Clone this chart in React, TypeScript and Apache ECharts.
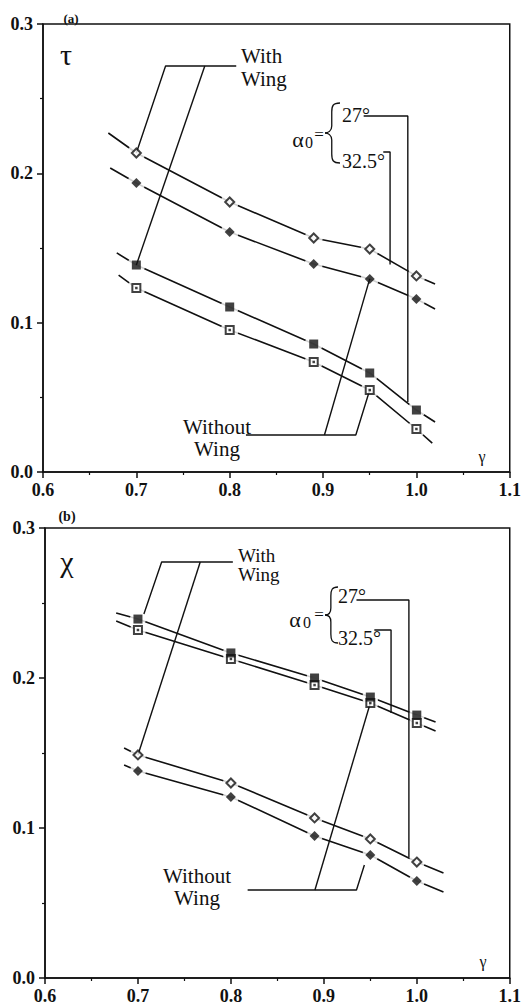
import { useEffect, useRef } from "react";
import * as echarts from "echarts";

type Pt = [number, number];

const INK = "#111";
const FONT = "Liberation Serif";

// Velocity ratio gamma at which both quantities were measured
const GAMMA = [0.7, 0.8, 0.89, 0.95, 1.0];

// Panel (a): tau
const TAU_OPEN_DIAMOND = [0.2136, 0.1808, 0.1567, 0.1493, 0.1313];
const TAU_FILLED_DIAMOND = [0.1935, 0.1607, 0.1393, 0.1293, 0.1158];
const TAU_FILLED_SQUARE = [0.1386, 0.1105, 0.0857, 0.0663, 0.0415];
const TAU_OPEN_SQUARE = [0.1232, 0.0951, 0.0737, 0.0549, 0.0288];
// where each fitted curve starts and stops
const TAU_OPEN_DIAMOND_ENDS: Pt[] = [[0.670, 0.227], [1.020, 0.1259]];
const TAU_FILLED_DIAMOND_ENDS: Pt[] = [[0.672, 0.2036], [1.020, 0.1092]];
const TAU_FILLED_SQUARE_ENDS: Pt[] = [[0.679, 0.1467], [1.020, 0.0335]];
const TAU_OPEN_SQUARE_ENDS: Pt[] = [[0.681, 0.1319], [1.017, 0.0194]];

// Panel (b): chi
const CHI_FILLED_SQUARE = [0.2393, 0.2167, 0.2, 0.1873, 0.1753];
const CHI_OPEN_SQUARE = [0.232, 0.2127, 0.1953, 0.1833, 0.17];
const CHI_OPEN_DIAMOND = [0.1487, 0.13, 0.1067, 0.0927, 0.0773];
const CHI_FILLED_DIAMOND = [0.138, 0.1207, 0.0947, 0.082, 0.0647];
const CHI_FILLED_SQUARE_ENDS: Pt[] = [[0.6766, 0.2433], [1.0202, 0.1707]];
const CHI_OPEN_SQUARE_ENDS: Pt[] = [[0.6766, 0.238], [1.0202, 0.1647]];
const CHI_OPEN_DIAMOND_ENDS: Pt[] = [[0.6851, 0.1533], [1.0287, 0.07]];
const CHI_FILLED_DIAMOND_ENDS: Pt[] = [[0.6851, 0.142], [1.0287, 0.0573]];

// Leader lines from the annotations to the curves (data coordinates)
const TAU_LEADERS: Pt[][] = [
  [[0.7, 0.2136], [0.7313, 0.2719], [0.807, 0.2719]],
  [[0.7733, 0.2719], [0.7, 0.1386]],
  [[0.9435, 0.2384], [0.9908, 0.2384], [0.9908, 0.0469]],
  [[0.9645, 0.2143], [0.9718, 0.2143], [0.9718, 0.139]],
  [[0.8174, 0.0248], [0.9351, 0.0248], [0.95, 0.0549]],
  [[0.9015, 0.0248], [0.95, 0.1293]],
];
const CHI_LEADERS: Pt[][] = [
  [[0.7064, 0.2427], [0.7255, 0.2773], [0.8021, 0.2773]],
  [[0.767, 0.2773], [0.7, 0.1487]],
  [[0.9351, 0.252], [0.9915, 0.252], [0.9915, 0.0807]],
  [[0.9543, 0.232], [0.9723, 0.232], [0.9723, 0.1767]],
  [[0.818, 0.0587], [0.9351, 0.0587], [0.9436, 0.0753]],
  [[0.8904, 0.0587], [0.95, 0.1833]],
];

const X_MIN = 0.6;
const X_MAX = 1.1;
const Y_MIN = 0;
const Y_MAX = 0.3;
const STEP = 0.1;

type Mark = { symbol: string; size: number; fill: string; border: number };
const OPEN_DIAMOND: Mark = { symbol: "diamond", size: 9, fill: "#fff", border: 2 };
const FILLED_DIAMOND: Mark = { symbol: "diamond", size: 10, fill: INK, border: 0 };
const FILLED_SQUARE: Mark = { symbol: "rect", size: 9, fill: INK, border: 0 };
const OPEN_SQUARE: Mark = { symbol: "rect", size: 8, fill: "#fff", border: 2 };

const zip = (xs: number[], ys: number[]): Pt[] => xs.map((x, i) => [x, ys[i]]);

function curve(axis: number, ys: number[], ends: Pt[], halo: number) {
  const pts = zip(GAMMA, ys);
  return [
    {
      type: "line",
      xAxisIndex: axis,
      yAxisIndex: axis,
      data: [ends[0], ...pts, ends[1]],
      smooth: false,
      symbol: "none",
      lineStyle: { color: INK, width: 1.6 },
      z: 2,
      silent: true,
    },
    {
      type: "scatter",
      xAxisIndex: axis,
      yAxisIndex: axis,
      data: pts,
      symbol: "circle",
      symbolSize: halo,
      itemStyle: { color: "#fff" },
      z: 3,
      silent: true,
    },
  ];
}

function markers(axis: number, ys: number[], m: Mark, z = 5) {
  const list: any[] = [
    {
      type: "scatter",
      xAxisIndex: axis,
      yAxisIndex: axis,
      data: zip(GAMMA, ys),
      symbol: m.symbol,
      symbolSize: m.size,
      itemStyle: { color: m.fill, borderColor: INK, borderWidth: m.border },
      z,
      silent: true,
    },
  ];
  if (m === OPEN_SQUARE) {
    list.push({
      type: "scatter",
      xAxisIndex: axis,
      yAxisIndex: axis,
      data: zip(GAMMA, ys),
      symbol: "rect",
      symbolSize: 2.5,
      itemStyle: { color: INK },
      z: z + 0.5,
      silent: true,
    });
  }
  return list;
}

function leaders(axis: number, lines: Pt[][]) {
  return lines.map((pts) => ({
    type: "line",
    xAxisIndex: axis,
    yAxisIndex: axis,
    data: pts,
    symbol: "none",
    lineStyle: { color: INK, width: 1.4 },
    z: 4,
    silent: true,
  }));
}

function axes(grid: number) {
  const label = {
    color: INK,
    fontFamily: FONT,
    fontWeight: "bold",
    fontSize: 18,
    formatter: (v: number) => v.toFixed(1),
  };
  const common = {
    type: "value",
    gridIndex: grid,
    interval: STEP,
    axisLine: { show: true, lineStyle: { color: INK, width: 1.5 } },
    axisTick: { show: true, length: 6, lineStyle: { color: INK, width: 1.5 } },
    minorTick: { show: true, splitNumber: 2, length: 3, lineStyle: { color: INK, width: 1.2 } },
    splitLine: { show: false },
  };
  return {
    x: { ...common, min: X_MIN, max: X_MAX, axisLabel: { ...label, margin: 9 } },
    y: { ...common, min: Y_MIN, max: Y_MAX, axisLabel: { ...label, margin: 10 } },
  };
}

function text(t: string, x: number, y: number, size: number, opts: any = {}) {
  const style: any = {
    text: t,
    fontFamily: FONT,
    fontSize: size,
    fill: INK,
    textAlign: opts.align || "center",
    textVerticalAlign: "middle",
  };
  if (opts.bold) style.fontWeight = "bold";
  if (opts.lineHeight) style.lineHeight = opts.lineHeight;
  return { type: "text", x, y, style };
}

function brace(xTip: number, xEnd: number, yTop: number, yBot: number) {
  const mid = (yTop + yBot) / 2;
  const sx = xTip + (xEnd - xTip) * 0.45;
  const st = { stroke: INK, lineWidth: 1.3, fill: null };
  const seg = (shape: any) => ({ type: "bezierCurve", shape, style: st });
  const ln = (y1: number, y2: number) => ({ type: "line", shape: { x1: sx, y1, x2: sx, y2 }, style: st });
  return [
    seg({ x1: xEnd, y1: yTop, cpx1: sx + 1, cpy1: yTop, cpx2: sx, cpy2: yTop + 3, x2: sx, y2: yTop + 9 }),
    ln(yTop + 9, mid - 7),
    seg({ x1: sx, y1: mid - 7, cpx1: sx, cpy1: mid - 2, cpx2: xTip + 3, cpy2: mid, x2: xTip, y2: mid }),
    seg({ x1: xTip, y1: mid, cpx1: xTip + 3, cpy1: mid, cpx2: sx, cpy2: mid + 2, x2: sx, y2: mid + 7 }),
    ln(mid + 7, yBot - 9),
    seg({ x1: sx, y1: yBot - 9, cpx1: sx, cpy1: yBot - 3, cpx2: sx + 1, cpy2: yBot, x2: xEnd, y2: yBot }),
  ];
}

export default function App() {
  const ref = useRef<HTMLDivElement>(null);

  useEffect(() => {
    if (!ref.current) return;
    const chart = echarts.init(ref.current, undefined, { renderer: "svg" });
    const a = axes(0);
    const b = axes(1);

    chart.setOption({
      animation: false,
      grid: [
        { left: 43, top: 24, width: 476, height: 448, show: true, borderColor: INK, borderWidth: 1.5 },
        { left: 45, top: 528, width: 470, height: 450, show: true, borderColor: INK, borderWidth: 1.5 },
      ],
      xAxis: [a.x, b.x],
      yAxis: [a.y, b.y],
      series: [
        ...curve(0, TAU_OPEN_DIAMOND, TAU_OPEN_DIAMOND_ENDS, 18),
        ...curve(0, TAU_FILLED_DIAMOND, TAU_FILLED_DIAMOND_ENDS, 18),
        ...curve(0, TAU_FILLED_SQUARE, TAU_FILLED_SQUARE_ENDS, 18),
        ...curve(0, TAU_OPEN_SQUARE, TAU_OPEN_SQUARE_ENDS, 18),
        ...leaders(0, TAU_LEADERS),
        ...markers(0, TAU_OPEN_DIAMOND, OPEN_DIAMOND),
        ...markers(0, TAU_FILLED_DIAMOND, FILLED_DIAMOND),
        ...markers(0, TAU_FILLED_SQUARE, FILLED_SQUARE),
        ...markers(0, TAU_OPEN_SQUARE, OPEN_SQUARE),

        ...curve(1, CHI_FILLED_SQUARE, CHI_FILLED_SQUARE_ENDS, 16),
        ...curve(1, CHI_OPEN_SQUARE, CHI_OPEN_SQUARE_ENDS, 16),
        ...curve(1, CHI_OPEN_DIAMOND, CHI_OPEN_DIAMOND_ENDS, 16),
        ...curve(1, CHI_FILLED_DIAMOND, CHI_FILLED_DIAMOND_ENDS, 16),
        ...leaders(1, CHI_LEADERS),
        ...markers(1, CHI_OPEN_SQUARE, OPEN_SQUARE, 5),
        ...markers(1, CHI_FILLED_SQUARE, FILLED_SQUARE, 6),
        ...markers(1, CHI_OPEN_DIAMOND, OPEN_DIAMOND),
        ...markers(1, CHI_FILLED_DIAMOND, FILLED_DIAMOND),
      ],
      graphic: [
        // panel (a)
        text("(a)", 71, 18, 13, { bold: true }),
        text("τ", 66, 54, 30),
        text("With", 241, 56, 21, { align: "left" }),
        text("Wing", 241, 79, 21, { align: "left" }),
        text("α", 298, 139, 22),
        text("0", 309, 142, 16),
        text("=", 319, 134, 17),
        ...brace(325, 340, 103, 163),
        text("27°", 342, 115, 20, { align: "left" }),
        text("32.5°", 342, 161, 20, { align: "left" }),
        text("Without", 217, 427, 21),
        text("Wing", 217, 449, 21),
        text("γ", 482, 456, 16),
        // panel (b)
        text("(b)", 67, 516, 14, { bold: true }),
        text("χ", 67, 561, 30),
        text("With", 238, 555, 19, { align: "left" }),
        text("Wing", 238, 574, 19, { align: "left" }),
        text("α", 295, 619, 22),
        text("0", 307, 622, 16),
        text("=", 319, 614, 17),
        ...brace(325, 338, 587, 643),
        text("27°", 338, 596, 20, { align: "left" }),
        text("32.5°", 338, 638, 20, { align: "left" }),
        text("Without", 197, 876, 21),
        text("Wing", 197, 898, 21),
        text("γ", 483, 961, 16),
      ],
    });

    return () => chart.dispose();
  }, []);

  return (
    <div
      ref={ref}
      style={{ position: "absolute", left: 0, top: 0, width: 524, height: 1007, background: "#fff" }}
    />
  );
}
